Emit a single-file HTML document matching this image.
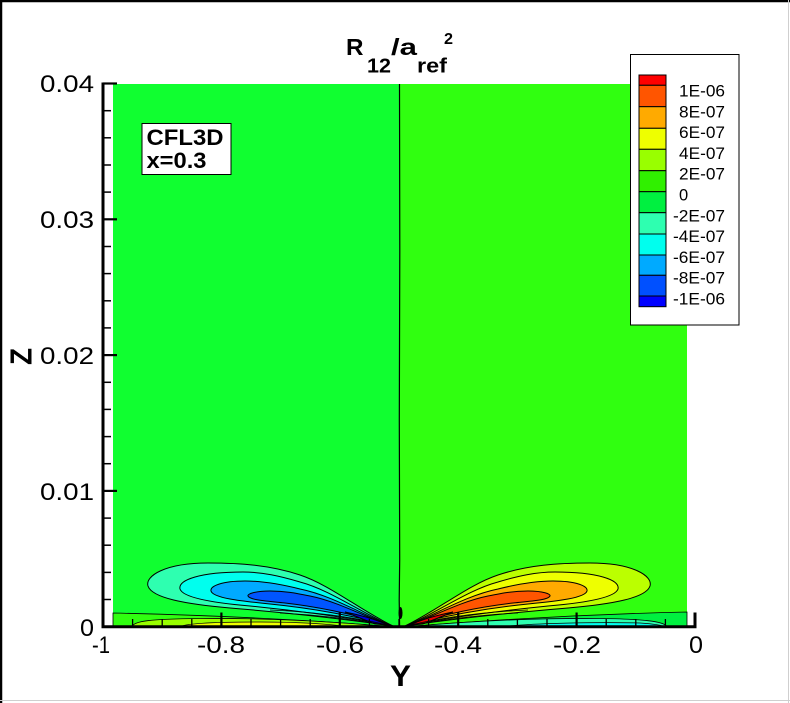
<!DOCTYPE html>
<html>
<head>
<meta charset="utf-8">
<style>
html,body{margin:0;padding:0;background:#fff;}
svg{display:block;}
text{font-family:"Liberation Sans",Arial,sans-serif;fill:#000;}
</style>
</head>
<body>
<svg width="790" height="703" viewBox="0 0 790 703" xmlns="http://www.w3.org/2000/svg">
<rect x="0" y="0" width="790" height="703" fill="#fff"/>
<!-- frame -->
<line x1="0" y1="1" x2="790" y2="1" stroke="#000" stroke-width="2.5"/>
<line x1="1" y1="0" x2="1" y2="703" stroke="#000" stroke-width="2.5"/>
<line x1="788.5" y1="0" x2="788.5" y2="703" stroke="#cfcfcf" stroke-width="1"/>
<line x1="0" y1="700.5" x2="790" y2="700.5" stroke="#cfcfcf" stroke-width="1"/>

<!-- field -->
<rect x="113" y="84" width="287" height="543" fill="#10ff30"/>
<rect x="400" y="84" width="287" height="543" fill="#30ff10"/>

<!-- left bottom layer -->
<path d="M113,613 C200,615 300,619 396,627 L113,627 Z" fill="#30ff10" stroke="#000" stroke-width="0.8"/>
<path d="M132,627 C133,621 150,619 200,618.5 C260,618 330,621 392,627 Z" fill="#99ff00" stroke="#000" stroke-width="0.8"/>
<path d="M180,627 C185,623 220,622 260,622 C300,622 330,624 350,627 Z" fill="#eeff00" stroke="#000" stroke-width="0.8"/>

<!-- right bottom layer -->
<path d="M687,612 C600,614 500,619 403,627 L687,627 Z" fill="#00f040" stroke="#000" stroke-width="0.8"/>
<path d="M667,627 C665,621 640,619 600,618.5 C540,618 470,621 405,627 Z" fill="#2effb0" stroke="#000" stroke-width="0.8"/>
<path d="M500,627 C530,623 600,622 640,623 C655,624 662,625 665,627 Z" fill="#00ffee" stroke="#000" stroke-width="0.8"/>

<!-- left lobe (negative) -->
<g stroke="#000" stroke-width="1">
<path d="M393,626 C360,610 330,585 300,575 C270,565 240,563 208,563 C165,563 145,576 148,586 C152,598 185,604 230,608 C290,613 345,619 393,626 Z" fill="#2effb0"/>
<path d="M390,625 C360,612 330,590 300,582 C280,576 262,572 243,572 C200,572 178,580 180,589 C183,598 215,603 250,606 C300,611 350,618 390,625 Z" fill="#00ffee"/>
<path d="M387,624 C360,613 330,595 300,589 C280,584 262,581 245,581 C222,581 210,586 211,591 C213,598 240,601 270,604 C320,609 355,617 387,624 Z" fill="#00aaff"/>
<path d="M383,623 C360,614 335,601 310,596 C295,593 285,591 270,591 C255,591 247,594 248,596 C250,600 265,601 285,603 C320,607 355,615 383,623 Z" fill="#0055ff"/>
<path d="M345,612 C360,615 375,619 388,625 L375,624 C365,620 355,616 345,612 Z" fill="#0000dd"/>
<path d="M396,627 C360,618 320,612 270,610" fill="none" stroke-width="0.8"/>
<path d="M396,627 C360,620 320,615 280,613" fill="none" stroke-width="0.8"/>
</g>

<!-- right lobe (positive), mirrored -->
<g transform="translate(798,0) scale(-1,1)" stroke="#000" stroke-width="1">
<path d="M393,626 C360,610 330,585 300,575 C270,565 240,563 208,563 C165,563 145,576 148,586 C152,598 185,604 230,608 C290,613 345,619 393,626 Z" fill="#bbff00"/>
<path d="M390,625 C360,612 330,590 300,582 C280,576 262,572 243,572 C200,572 178,580 180,589 C183,598 215,603 250,606 C300,611 350,618 390,625 Z" fill="#eeff00"/>
<path d="M387,624 C360,613 330,595 300,589 C280,584 262,581 245,581 C222,581 210,586 211,591 C213,598 240,601 270,604 C320,609 355,617 387,624 Z" fill="#ffaa00"/>
<path d="M383,623 C360,614 335,601 310,596 C295,593 285,591 270,591 C255,591 247,594 248,596 C250,600 265,601 285,603 C320,607 355,615 383,623 Z" fill="#ff5500"/>
<path d="M345,612 C360,615 375,619 388,625 L375,624 C365,620 355,616 345,612 Z" fill="#ee0000"/>
<path d="M396,627 C360,618 320,612 270,610" fill="none" stroke-width="0.8"/>
<path d="M396,627 C360,620 320,615 280,613" fill="none" stroke-width="0.8"/>
</g>

<!-- center line -->
<path d="M399.5,84 L399.8,250 L399.3,420 L399.7,560 L399.2,600 L399.6,626" fill="none" stroke="#000" stroke-width="1.2"/>
<ellipse cx="400.5" cy="613" rx="2" ry="6" fill="#000"/>

<!-- axes -->
<g stroke="#000">
<line x1="103" y1="82.5" x2="103" y2="628" stroke-width="3"/>
<line x1="101.5" y1="626.7" x2="696.5" y2="626.7" stroke-width="3"/>
<g stroke-width="2.2">
<line x1="103" y1="83.5" x2="117" y2="83.5"/>
<line x1="103" y1="219.3" x2="117" y2="219.3"/>
<line x1="103" y1="355.1" x2="117" y2="355.1"/>
<line x1="103" y1="490.9" x2="117" y2="490.9"/>
</g>
<g stroke-width="1.5">
<line x1="103" y1="110.7" x2="111" y2="110.7"/>
<line x1="103" y1="137.8" x2="111" y2="137.8"/>
<line x1="103" y1="165.0" x2="111" y2="165.0"/>
<line x1="103" y1="192.1" x2="111" y2="192.1"/>
<line x1="103" y1="246.5" x2="111" y2="246.5"/>
<line x1="103" y1="273.6" x2="111" y2="273.6"/>
<line x1="103" y1="300.8" x2="111" y2="300.8"/>
<line x1="103" y1="327.9" x2="111" y2="327.9"/>
<line x1="103" y1="382.3" x2="111" y2="382.3"/>
<line x1="103" y1="409.4" x2="111" y2="409.4"/>
<line x1="103" y1="436.6" x2="111" y2="436.6"/>
<line x1="103" y1="463.7" x2="111" y2="463.7"/>
<line x1="103" y1="518.1" x2="111" y2="518.1"/>
<line x1="103" y1="545.2" x2="111" y2="545.2"/>
<line x1="103" y1="572.4" x2="111" y2="572.4"/>
<line x1="103" y1="599.5" x2="111" y2="599.5"/>
</g>
<g stroke-width="2.2">
<line x1="221.4" y1="626" x2="221.4" y2="612.5"/>
<line x1="339.8" y1="626" x2="339.8" y2="612.5"/>
<line x1="458.2" y1="626" x2="458.2" y2="612.5"/>
<line x1="576.6" y1="626" x2="576.6" y2="612.5"/>
<line x1="695" y1="628" x2="695" y2="612.5" stroke-width="3"/>
</g>
<g stroke-width="1.3">
<line x1="132.6" y1="626" x2="132.6" y2="619"/>
<line x1="162.2" y1="626" x2="162.2" y2="619"/>
<line x1="191.8" y1="626" x2="191.8" y2="619"/>
<line x1="251.0" y1="626" x2="251.0" y2="619"/>
<line x1="280.6" y1="626" x2="280.6" y2="619"/>
<line x1="310.2" y1="626" x2="310.2" y2="619"/>
<line x1="369.4" y1="626" x2="369.4" y2="619"/>
<line x1="399.0" y1="626" x2="399.0" y2="619"/>
<line x1="428.6" y1="626" x2="428.6" y2="619"/>
<line x1="487.8" y1="626" x2="487.8" y2="619"/>
<line x1="517.4" y1="626" x2="517.4" y2="619"/>
<line x1="547.0" y1="626" x2="547.0" y2="619"/>
<line x1="606.2" y1="626" x2="606.2" y2="619"/>
<line x1="635.8" y1="626" x2="635.8" y2="619"/>
<line x1="665.4" y1="626" x2="665.4" y2="619"/>
</g>
</g>

<!-- y tick labels -->
<g font-size="24">
<text x="40" y="92" textLength="54" lengthAdjust="spacingAndGlyphs">0.04</text>
<text x="40" y="228" textLength="54" lengthAdjust="spacingAndGlyphs">0.03</text>
<text x="40" y="364" textLength="54" lengthAdjust="spacingAndGlyphs">0.02</text>
<text x="40" y="500" textLength="54" lengthAdjust="spacingAndGlyphs">0.01</text>
<text x="80" y="636" textLength="14" lengthAdjust="spacingAndGlyphs">0</text>
</g>
<!-- x tick labels -->
<g font-size="24">
<text x="92" y="653" textLength="18" lengthAdjust="spacingAndGlyphs">-1</text>
<text x="197" y="653" textLength="48" lengthAdjust="spacingAndGlyphs">-0.8</text>
<text x="316" y="653" textLength="48" lengthAdjust="spacingAndGlyphs">-0.6</text>
<text x="434" y="653" textLength="48" lengthAdjust="spacingAndGlyphs">-0.4</text>
<text x="553" y="653" textLength="48" lengthAdjust="spacingAndGlyphs">-0.2</text>
<text x="689" y="653" textLength="14" lengthAdjust="spacingAndGlyphs">0</text>
</g>

<!-- axis titles -->
<text x="390" y="686" font-size="30" font-weight="bold" textLength="21" lengthAdjust="spacingAndGlyphs">Y</text>
<text transform="translate(31.5,365) rotate(-90)" font-size="31" font-weight="bold" textLength="17" lengthAdjust="spacingAndGlyphs">Z</text>

<!-- title -->
<g font-weight="bold">
<text x="346" y="55" font-size="23.5" textLength="17.5" lengthAdjust="spacingAndGlyphs">R</text>
<text x="367" y="72.5" font-size="20.5" textLength="24" lengthAdjust="spacingAndGlyphs">12</text>
<text x="391" y="55" font-size="23.5" textLength="26" lengthAdjust="spacingAndGlyphs">/a</text>
<text x="417" y="72.5" font-size="20.5" textLength="30" lengthAdjust="spacingAndGlyphs">ref</text>
<text x="444" y="44" font-size="15.5" textLength="9" lengthAdjust="spacingAndGlyphs">2</text>
</g>

<!-- CFL3D box -->
<rect x="142" y="123.5" width="89" height="51" fill="#fff" stroke="#000" stroke-width="1"/>
<g font-weight="bold" font-size="22">
<text x="146.5" y="145" textLength="77" lengthAdjust="spacingAndGlyphs">CFL3D</text>
<text x="146.5" y="168" textLength="60" lengthAdjust="spacingAndGlyphs">x=0.3</text>
</g>

<!-- legend -->
<rect x="630.5" y="54.5" width="108.5" height="270.5" fill="#fff" stroke="#000" stroke-width="1"/>
<g stroke="#000" stroke-width="1">
<rect x="639" y="75" width="27" height="10.3" fill="#ff0000"/>
<rect x="639" y="85.3" width="27" height="21.4" fill="#ff5500"/>
<rect x="639" y="106.7" width="27" height="21.6" fill="#ffaa00"/>
<rect x="639" y="128.3" width="27" height="21" fill="#eeff00"/>
<rect x="639" y="149.3" width="27" height="21.4" fill="#99ff00"/>
<rect x="639" y="170.7" width="27" height="21" fill="#30f000"/>
<rect x="639" y="191.7" width="27" height="21" fill="#00f040"/>
<rect x="639" y="212.7" width="27" height="21.3" fill="#2effb0"/>
<rect x="639" y="234" width="27" height="21" fill="#00ffee"/>
<rect x="639" y="255" width="27" height="20.3" fill="#00aaff"/>
<rect x="639" y="275.3" width="27" height="20.7" fill="#0050ff"/>
<rect x="639" y="296" width="27" height="10.7" fill="#0000ff"/>
</g>
<g font-size="16.5">
<text x="679" y="96.5" textLength="46" lengthAdjust="spacingAndGlyphs">1E-06</text>
<text x="679" y="117.3" textLength="46" lengthAdjust="spacingAndGlyphs">8E-07</text>
<text x="679" y="138.1" textLength="46" lengthAdjust="spacingAndGlyphs">6E-07</text>
<text x="679" y="158.9" textLength="46" lengthAdjust="spacingAndGlyphs">4E-07</text>
<text x="679" y="179.7" textLength="46" lengthAdjust="spacingAndGlyphs">2E-07</text>
<text x="679" y="200.5">0</text>
<text x="673" y="221.3" textLength="52" lengthAdjust="spacingAndGlyphs">-2E-07</text>
<text x="673" y="242.1" textLength="52" lengthAdjust="spacingAndGlyphs">-4E-07</text>
<text x="673" y="262.9" textLength="52" lengthAdjust="spacingAndGlyphs">-6E-07</text>
<text x="673" y="283.7" textLength="52" lengthAdjust="spacingAndGlyphs">-8E-07</text>
<text x="673" y="304.5" textLength="52" lengthAdjust="spacingAndGlyphs">-1E-06</text>
</g>
</svg>
</body>
</html>
